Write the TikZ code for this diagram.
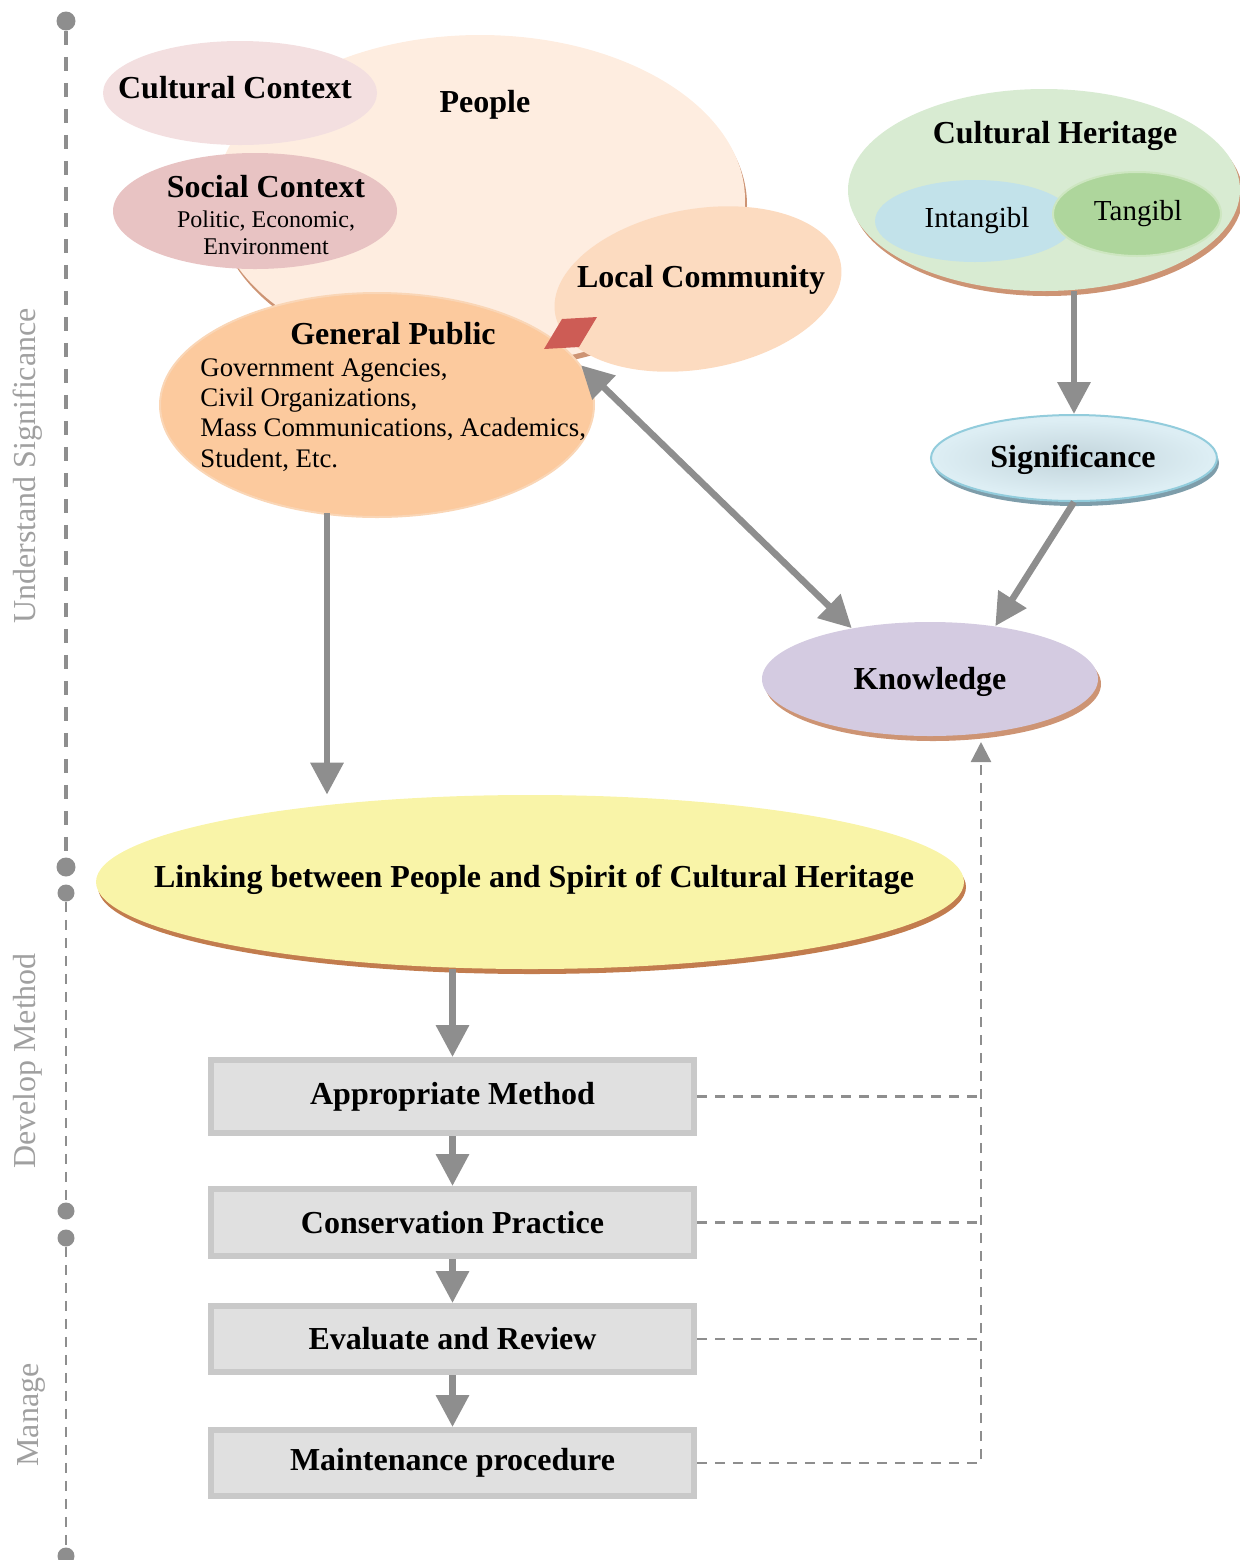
\documentclass[tikz,border=0pt]{standalone}
\usepackage{fontspec}
\setmainfont{Liberation Serif}
\usetikzlibrary{arrows.meta,shadows,calc,shapes.geometric}

\definecolor{peoplefill}{HTML}{FEEDE0}
\definecolor{ccfill}{HTML}{F3DFE0}
\definecolor{scfill}{HTML}{E8C3C3}
\definecolor{lcfill}{HTML}{FCDBC0}
\definecolor{gpfill}{HTML}{FCCA9E}
\definecolor{gpedge}{HTML}{FAD6B6}
\definecolor{redmark}{HTML}{CD5C55}
\definecolor{chfill}{HTML}{D8EBD2}
\definecolor{infill}{HTML}{C2E2EA}
\definecolor{tafill}{HTML}{AED69C}
\definecolor{taedge}{HTML}{CDE6C0}
\definecolor{sigfill}{HTML}{DDEEF4}
\definecolor{sigedge}{HTML}{92CCDC}
\definecolor{sigshadow}{HTML}{7E9DAA}
\definecolor{sigglow}{HTML}{C2D4DB}
\definecolor{knfill}{HTML}{D4CBE1}
\definecolor{lkfill}{HTML}{F9F4A8}
\definecolor{tanshadow}{HTML}{CD9474}
\definecolor{lkshadow}{HTML}{C27C4E}
\definecolor{boxfill}{HTML}{E0E0E0}
\definecolor{boxframe}{HTML}{C9C9C9}
\definecolor{arrowgray}{HTML}{8E8E8E}
\definecolor{labelgray}{HTML}{A0A0A0}

\begin{document}
\begin{tikzpicture}[x=0.5pt,y=-0.5pt,
  blob/.style={ellipse, inner sep=0pt, draw=none},
  raised/.style={drop shadow={shadow xshift=#1, shadow yshift=-2.5pt, fill=tanshadow, opacity=1}},
  ttl/.style={font=\fontsize{16}{19}\selectfont\bfseries, anchor=base, inner sep=0pt},
  sub/.style={font=\fontsize{12}{14}\selectfont, anchor=base, inner sep=0pt},
  mid/.style={font=\fontsize{14.5}{17}\selectfont, anchor=base, inner sep=0pt},
  gplist/.style={font=\fontsize{13.4}{15}\selectfont, anchor=base west, inner sep=0pt},
  bigarrow/.style={draw=arrowgray, line width=3.3pt, -{Triangle[length=16pt,width=16pt]}},
  twoway/.style={draw=arrowgray, line width=3.3pt, {Triangle[length=16pt,width=16pt]}-{Triangle[length=16pt,width=16pt]}},
  dashlink/.style={draw=arrowgray, line width=1.2pt, dash pattern=on 5pt off 4pt},
  stagebox/.style={rectangle, draw=boxframe, line width=3pt, fill=boxfill,
    minimum width=241.5pt, inner sep=0pt, font=\fontsize{16}{19}\selectfont\bfseries},
  axisdot/.style={circle, fill=arrowgray, inner sep=0pt, minimum size=#1},
  axismain/.style={draw=arrowgray, line width=1.6pt, dash pattern=on 7pt off 6pt},
  axisthin/.style={draw=arrowgray, line width=1.1pt, dash pattern=on 5pt off 4pt},
  phase/.style={rotate=90, anchor=base, text=labelgray, font=\fontsize{16}{19}\selectfont, inner sep=0pt}
]
\useasboundingbox (0,0) rectangle (1239,1560);

% ---------- phase axis on the left ----------
\node[axisdot=9.5pt] (a1) at (66,21) {};
\node[axisdot=9.5pt] (a2) at (66,867) {};
\node[axisdot=8.5pt] (a3) at (66,893) {};
\node[axisdot=8.5pt] (a4) at (66,1211) {};
\node[axisdot=8.5pt] (a5) at (66,1238) {};
\node[axisdot=8.5pt] (a6) at (66,1556) {};
\draw[axismain] (a1.south) -- (a2.north);
\draw[axisthin] (a3.south) -- (a4.north);
\draw[axisthin] (a5.south) -- (a6.north);
\node[phase] (ph1) at (35,466) {Understand Significance};
\node[phase] (ph2) at (35,1061) {Develop Method};
\node[phase] (ph3) at (39,1415) {Manage};

% ---------- people cluster ----------
\node[blob, fill=peoplefill, raised=1pt, minimum width=265pt, minimum height=165pt] (people) at (480,200) {};
\node[blob, fill=ccfill, minimum width=137pt, minimum height=52pt] (cc) at (240,93) {};
\node[blob, fill=scfill, minimum width=142pt, minimum height=58pt] (sc) at (255,211) {};
\node[blob, fill=lcfill, minimum width=145pt, minimum height=80pt, rotate=10] (lc) at (698,289) {};
\node[blob, fill=gpfill, draw=gpedge, line width=1pt, minimum width=217pt, minimum height=112pt] (gp) at (377,405) {};
\fill[redmark] (544,349) -- (562,319) -- (597,317) -- (579,347) -- cycle;

\node[ttl] (tcc) at (235,98) {Cultural Context};
\node[ttl] (tpeople) at (485,112) {People};
\node[ttl] (tsc) at (266,197) {Social Context};
\node[sub] (tsc1) at (266,227) {Politic, Economic,};
\node[sub] (tsc2) at (266,254) {Environment};
\node[ttl] (tlc) at (701,287) {Local Community};
\node[ttl] (tgp) at (393,344) {General Public};
\node[gplist] (g1) at (200,376) {Government Agencies,};
\node[gplist] (g2) at (200,406.3) {Civil Organizations,};
\node[gplist] (g3) at (200,436.6) {Mass Communications, Academics,};
\node[gplist] (g4) at (200,467) {Student, Etc.};

% ---------- cultural heritage ----------
\node[blob, fill=chfill, raised=1.5pt, minimum width=196pt, minimum height=101pt] (ch) at (1044,190) {};
\node[blob, fill=infill, minimum width=100pt, minimum height=41pt] (intan) at (975,221) {};
\node[blob, fill=tafill, draw=taedge, line width=1pt, minimum width=84pt, minimum height=42pt] (tan) at (1137,214) {};
\node[ttl] (tch) at (1055,143) {Cultural Heritage};
\node[mid] (tin) at (977,227) {Intangibl};
\node[mid] (tta) at (1138,220) {Tangibl};

% ---------- significance and knowledge ----------
\node[blob, fill=sigfill, draw=sigedge, line width=1pt, minimum width=143pt, minimum height=43pt,
  drop shadow={shadow xshift=1pt, shadow yshift=-2.5pt, fill=sigshadow, opacity=1}] (sig) at (1074,458) {};
\shade[inner color=sigglow, outer color=sigfill] (1073,458) ellipse [x radius=138, y radius=38];
\node[ttl] (tsig) at (1073,467) {Significance};

\node[blob, fill=knfill, raised=1.5pt, minimum width=168pt, minimum height=57pt] (know) at (930,679) {};
\node[ttl] (tkn) at (930,689) {Knowledge};

% ---------- linking ----------
\node[blob, fill=lkfill, minimum width=434pt, minimum height=87pt,
  drop shadow={shadow xshift=1pt, shadow yshift=-2.5pt, fill=lkshadow, opacity=1}] (lk) at (530,882) {};
\node[ttl] (tlk) at (534,887) {Linking between People and Spirit of Cultural Heritage};

% ---------- stages ----------
\node[stagebox, minimum height=36.5pt] (b1) at (452.5,1096.5) {Appropriate Method};
\node[stagebox, minimum height=33.5pt] (b2) at (452.5,1222.5) {Conservation Practice};
\node[stagebox, minimum height=33pt] (b3) at (452.5,1339) {Evaluate and Review};
\node[stagebox, minimum height=33pt] (b4) at (452.5,1463) {Maintenance procedure};

% ---------- connectors ----------
\draw[bigarrow] (sig.north |- ch.south) -- (sig.north);
\draw[bigarrow] (sig.south) -- (know.39);
\draw[twoway] (gp.11.6) -- (know.147.5);
\coordinate (gpout) at ($(gp.south)+(-50,-5)$);
\draw[bigarrow] (gpout) -- (gpout |- lk.north);
\draw[bigarrow] (b1.north |- lk.south) -- (b1.north);
\draw[bigarrow] (b1.south) -- (b2.north);
\draw[bigarrow] (b2.south) -- (b3.north);
\draw[bigarrow] (b3.south) -- (b4.north);

\coordinate (kb) at (981,742);
\draw[dashlink] (b1.east) -- (b1.east -| kb);
\draw[dashlink] (b2.east) -- (b2.east -| kb);
\draw[dashlink] (b3.east) -- (b3.east -| kb);
\draw[dashlink, -{Triangle[length=10pt,width=10pt]}] (b4.east) -| (kb);
\end{tikzpicture}
\end{document}
